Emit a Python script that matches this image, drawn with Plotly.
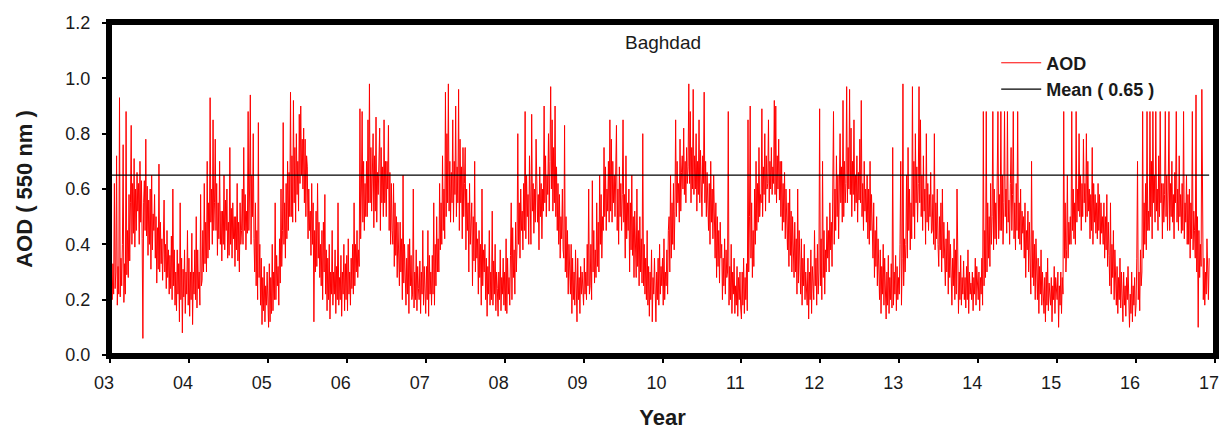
import plotly.graph_objects as go

# Aerosol optical depth (550 nm) over Baghdad, about nine samples per month,
# one row per month, one list per year
aod_2003 = [0.82, 0.13, 0.30, 0.20, 0.33, 0.22, 0.62, 0.24, 0.30,
            0.72, 0.18, 0.32, 0.22, 0.93, 0.21, 0.35, 0.25, 0.40,
            0.76, 0.19, 0.33, 0.22, 0.88, 0.29, 0.45, 0.28, 0.58,
            0.34, 0.55, 0.83, 0.40, 0.62, 0.44, 0.71, 0.39, 0.60,
            0.45, 0.66, 0.52, 0.62, 0.40, 0.70, 0.48, 0.63, 0.42,
            0.06, 0.55, 0.63, 0.45, 0.78, 0.43, 0.61, 0.36, 0.56,
            0.40, 0.60, 0.31, 0.65, 0.38, 0.51, 0.45, 0.58, 0.35,
            0.50, 0.26, 0.46, 0.31, 0.69, 0.30, 0.48, 0.33, 0.42,
            0.27, 0.45, 0.56, 0.30, 0.40, 0.24, 0.45, 0.28, 0.38,
            0.22, 0.36, 0.24, 0.43, 0.20, 0.60, 0.25, 0.38, 0.18,
            0.30, 0.16, 0.38, 0.22, 0.33, 0.12, 0.55, 0.20, 0.35,
            0.08, 0.31, 0.21, 0.38, 0.15, 0.30, 0.22, 0.45, 0.18]
aod_2004 = [0.35, 0.14, 0.30, 0.20, 0.44, 0.11, 0.30, 0.22, 0.38,
            0.20, 0.50, 0.17, 0.38, 0.24, 0.30, 0.18, 0.58, 0.25,
            0.27, 0.45, 0.30, 0.62, 0.33, 0.48, 0.30, 0.70, 0.35,
            0.55, 0.38, 0.93, 0.48, 0.60, 0.40, 0.85, 0.45, 0.55,
            0.78, 0.45, 0.62, 0.36, 0.55, 0.42, 0.70, 0.40, 0.52,
            0.34, 0.52, 0.40, 0.65, 0.38, 0.56, 0.45, 0.60, 0.35,
            0.48, 0.36, 0.75, 0.40, 0.53, 0.35, 0.55, 0.42, 0.50,
            0.32, 0.50, 0.38, 0.62, 0.34, 0.48, 0.30, 0.55, 0.40,
            0.45, 0.60, 0.40, 0.75, 0.45, 0.58, 0.38, 0.52, 0.44,
            0.88, 0.45, 0.60, 0.94, 0.40, 0.65, 0.50, 0.80, 0.42,
            0.30, 0.55, 0.25, 0.45, 0.20, 0.84, 0.28, 0.40, 0.18,
            0.35, 0.11, 0.28, 0.16, 0.32, 0.12, 0.25, 0.18, 0.30]
aod_2005 = [0.22, 0.10, 0.33, 0.12, 0.28, 0.15, 0.40, 0.16, 0.30,
            0.20, 0.55, 0.20, 0.36, 0.25, 0.32, 0.18, 0.42, 0.26,
            0.60, 0.32, 0.45, 0.84, 0.40, 0.55, 0.35, 0.62, 0.42,
            0.70, 0.45, 0.66, 0.50, 0.95, 0.50, 0.72, 0.48, 0.92,
            0.55, 0.75, 0.48, 0.80, 0.58, 0.70, 0.52, 0.87, 0.62,
            0.90, 0.65, 0.78, 0.60, 0.82, 0.55, 0.78, 0.50, 0.72,
            0.68, 0.42, 0.60, 0.45, 0.52, 0.36, 0.62, 0.40, 0.55,
            0.12, 0.45, 0.30, 0.52, 0.32, 0.62, 0.35, 0.48, 0.28,
            0.40, 0.25, 0.45, 0.20, 0.48, 0.30, 0.58, 0.22, 0.38,
            0.16, 0.35, 0.20, 0.40, 0.13, 0.30, 0.22, 0.45, 0.18,
            0.30, 0.22, 0.38, 0.15, 0.32, 0.20, 0.55, 0.18, 0.28,
            0.20, 0.36, 0.14, 0.30, 0.22, 0.40, 0.16, 0.33, 0.20]
aod_2006 = [0.36, 0.16, 0.42, 0.22, 0.30, 0.18, 0.35, 0.24, 0.40,
            0.22, 0.55, 0.25, 0.40, 0.30, 0.45, 0.28, 0.38, 0.32,
            0.89, 0.42, 0.60, 0.88, 0.48, 0.70, 0.45, 0.62, 0.50,
            0.70, 0.50, 0.85, 0.55, 0.98, 0.55, 0.75, 0.52, 0.68,
            0.80, 0.46, 0.72, 0.52, 0.86, 0.48, 0.66, 0.58, 0.75,
            0.82, 0.45, 0.75, 0.55, 0.68, 0.50, 0.85, 0.55, 0.70,
            0.50, 0.70, 0.60, 0.83, 0.45, 0.66, 0.40, 0.62, 0.45,
            0.40, 0.62, 0.32, 0.55, 0.36, 0.50, 0.28, 0.48, 0.35,
            0.25, 0.48, 0.30, 0.42, 0.20, 0.65, 0.26, 0.40, 0.22,
            0.18, 0.35, 0.22, 0.40, 0.15, 0.42, 0.25, 0.36, 0.20,
            0.22, 0.60, 0.17, 0.30, 0.20, 0.38, 0.16, 0.32, 0.24,
            0.20, 0.34, 0.15, 0.30, 0.22, 0.45, 0.18, 0.32, 0.25]
aod_2007 = [0.15, 0.32, 0.20, 0.45, 0.14, 0.36, 0.22, 0.30, 0.18,
            0.36, 0.22, 0.55, 0.18, 0.40, 0.25, 0.50, 0.30, 0.42,
            0.30, 0.62, 0.38, 0.55, 0.40, 0.72, 0.45, 0.60, 0.42,
            0.95, 0.50, 0.80, 0.55, 0.98, 0.52, 0.70, 0.48, 0.66,
            0.55, 0.85, 0.48, 0.70, 0.58, 0.90, 0.50, 0.68, 0.55,
            0.96, 0.45, 0.78, 0.55, 0.68, 0.42, 0.75, 0.50, 0.62,
            0.75, 0.38, 0.60, 0.45, 0.55, 0.30, 0.62, 0.40, 0.52,
            0.55, 0.25, 0.50, 0.34, 0.70, 0.30, 0.48, 0.35, 0.42,
            0.22, 0.45, 0.28, 0.40, 0.18, 0.60, 0.25, 0.38, 0.30,
            0.40, 0.20, 0.35, 0.14, 0.32, 0.22, 0.45, 0.18, 0.30,
            0.20, 0.52, 0.18, 0.34, 0.22, 0.40, 0.16, 0.30, 0.24,
            0.14, 0.30, 0.20, 0.38, 0.16, 0.28, 0.22, 0.35, 0.18]
aod_2008 = [0.30, 0.16, 0.42, 0.15, 0.35, 0.22, 0.28, 0.18, 0.36,
            0.55, 0.20, 0.46, 0.28, 0.38, 0.22, 0.48, 0.30, 0.40,
            0.80, 0.40, 0.55, 0.35, 0.60, 0.45, 0.52, 0.38, 0.62,
            0.45, 0.88, 0.42, 0.65, 0.50, 0.58, 0.40, 0.72, 0.48,
            0.40, 0.87, 0.52, 0.62, 0.44, 0.60, 0.48, 0.78, 0.50,
            0.48, 0.58, 0.38, 0.68, 0.50, 0.62, 0.42, 0.60, 0.52,
            0.90, 0.55, 0.72, 0.50, 0.65, 0.58, 0.80, 0.52, 0.70,
            0.97, 0.60, 0.85, 0.52, 0.75, 0.55, 0.90, 0.50, 0.68,
            0.45, 0.62, 0.40, 0.58, 0.35, 0.50, 0.42, 0.60, 0.38,
            0.35, 0.83, 0.30, 0.50, 0.28, 0.45, 0.22, 0.40, 0.30,
            0.22, 0.40, 0.15, 0.35, 0.20, 0.30, 0.18, 0.38, 0.25,
            0.12, 0.35, 0.20, 0.28, 0.15, 0.32, 0.22, 0.30, 0.18]
aod_2009 = [0.18, 0.35, 0.22, 0.30, 0.20, 0.40, 0.25, 0.60, 0.22,
            0.25, 0.40, 0.20, 0.63, 0.30, 0.45, 0.26, 0.38, 0.28,
            0.55, 0.32, 0.48, 0.30, 0.65, 0.40, 0.58, 0.35, 0.50,
            0.45, 0.75, 0.50, 0.68, 0.45, 0.60, 0.52, 0.70, 0.48,
            0.85, 0.52, 0.78, 0.48, 0.70, 0.55, 0.65, 0.50, 0.72,
            0.83, 0.45, 0.60, 0.40, 0.68, 0.50, 0.62, 0.45, 0.58,
            0.85, 0.48, 0.58, 0.35, 0.72, 0.42, 0.55, 0.45, 0.60,
            0.30, 0.55, 0.38, 0.65, 0.36, 0.50, 0.28, 0.52, 0.40,
            0.28, 0.60, 0.32, 0.45, 0.25, 0.50, 0.30, 0.42, 0.26,
            0.80, 0.25, 0.40, 0.22, 0.35, 0.20, 0.45, 0.18, 0.32,
            0.14, 0.30, 0.20, 0.38, 0.12, 0.28, 0.22, 0.35, 0.16,
            0.12, 0.30, 0.20, 0.35, 0.18, 0.40, 0.22, 0.32, 0.25]
aod_2010 = [0.35, 0.18, 0.42, 0.20, 0.30, 0.25, 0.38, 0.22, 0.45,
            0.50, 0.30, 0.65, 0.35, 0.55, 0.40, 0.62, 0.38, 0.52,
            0.85, 0.50, 0.70, 0.55, 0.62, 0.48, 0.78, 0.52, 0.66,
            0.72, 0.60, 0.82, 0.58, 0.70, 0.55, 0.75, 0.62, 0.68,
            0.98, 0.62, 0.88, 0.55, 0.75, 0.60, 0.96, 0.58, 0.72,
            0.60, 0.80, 0.52, 0.70, 0.58, 0.85, 0.55, 0.74, 0.62,
            0.50, 0.72, 0.62, 0.95, 0.55, 0.70, 0.50, 0.66, 0.58,
            0.45, 0.62, 0.40, 0.70, 0.48, 0.60, 0.42, 0.65, 0.50,
            0.35, 0.55, 0.28, 0.50, 0.32, 0.45, 0.26, 0.48, 0.35,
            0.40, 0.20, 0.35, 0.25, 0.42, 0.22, 0.38, 0.28, 0.30,
            0.88, 0.18, 0.32, 0.20, 0.40, 0.15, 0.30, 0.22, 0.35,
            0.15, 0.25, 0.18, 0.32, 0.14, 0.28, 0.20, 0.30, 0.17]
aod_2011 = [0.13, 0.30, 0.18, 0.35, 0.15, 0.28, 0.20, 0.33, 0.16,
            0.85, 0.30, 0.50, 0.90, 0.35, 0.55, 0.28, 0.45, 0.32,
            0.60, 0.40, 0.70, 0.45, 0.62, 0.48, 0.75, 0.50, 0.58,
            0.55, 0.89, 0.50, 0.68, 0.58, 0.80, 0.52, 0.72, 0.60,
            0.62, 0.85, 0.55, 0.70, 0.60, 0.75, 0.58, 0.68, 0.62,
            0.92, 0.58, 0.90, 0.55, 0.72, 0.60, 0.78, 0.56, 0.70,
            0.50, 0.70, 0.45, 0.62, 0.48, 0.66, 0.42, 0.60, 0.46,
            0.38, 0.55, 0.32, 0.60, 0.36, 0.52, 0.30, 0.50, 0.40,
            0.28, 0.48, 0.30, 0.42, 0.22, 0.60, 0.26, 0.45, 0.32,
            0.22, 0.42, 0.18, 0.35, 0.25, 0.40, 0.20, 0.30, 0.24,
            0.18, 0.35, 0.13, 0.30, 0.20, 0.38, 0.15, 0.32, 0.22,
            0.20, 0.45, 0.25, 0.35, 0.18, 0.40, 0.22, 0.30, 0.89]
aod_2012 = [0.25, 0.42, 0.20, 0.70, 0.28, 0.45, 0.22, 0.38, 0.30,
            0.50, 0.35, 0.45, 0.30, 0.55, 0.38, 0.48, 0.32, 0.60,
            0.88, 0.40, 0.60, 0.45, 0.72, 0.50, 0.65, 0.42, 0.58,
            0.80, 0.55, 0.68, 0.48, 0.92, 0.50, 0.70, 0.55, 0.62,
            0.97, 0.55, 0.75, 0.60, 0.96, 0.58, 0.82, 0.50, 0.70,
            0.58, 0.85, 0.52, 0.65, 0.55, 0.72, 0.48, 0.66, 0.56,
            0.78, 0.55, 0.92, 0.50, 0.62, 0.45, 0.70, 0.52, 0.60,
            0.48, 0.65, 0.42, 0.60, 0.40, 0.70, 0.45, 0.58, 0.38,
            0.35, 0.55, 0.28, 0.45, 0.32, 0.50, 0.25, 0.42, 0.30,
            0.20, 0.38, 0.15, 0.32, 0.22, 0.40, 0.18, 0.35, 0.25,
            0.13, 0.30, 0.18, 0.36, 0.15, 0.28, 0.20, 0.33, 0.17,
            0.75, 0.18, 0.30, 0.22, 0.36, 0.16, 0.32, 0.20, 0.28]
aod_2013 = [0.22, 0.40, 0.70, 0.18, 0.35, 0.98, 0.25, 0.42, 0.30,
            0.40, 0.65, 0.35, 0.75, 0.45, 0.60, 0.38, 0.55, 0.42,
            0.97, 0.50, 0.70, 0.42, 0.80, 0.55, 0.68, 0.48, 0.62,
            0.97, 0.55, 0.85, 0.50, 0.65, 0.45, 0.72, 0.52, 0.60,
            0.40, 0.80, 0.48, 0.62, 0.45, 0.58, 0.50, 0.66, 0.44,
            0.45, 0.58, 0.40, 0.80, 0.38, 0.55, 0.42, 0.60, 0.40,
            0.32, 0.50, 0.38, 0.55, 0.30, 0.60, 0.35, 0.48, 0.40,
            0.25, 0.42, 0.30, 0.48, 0.22, 0.45, 0.28, 0.40, 0.32,
            0.18, 0.35, 0.25, 0.42, 0.20, 0.38, 0.22, 0.60, 0.26,
            0.15, 0.30, 0.20, 0.36, 0.18, 0.28, 0.22, 0.34, 0.20,
            0.28, 0.17, 0.32, 0.20, 0.38, 0.15, 0.30, 0.22, 0.26,
            0.20, 0.30, 0.16, 0.28, 0.22, 0.35, 0.18, 0.32, 0.24]
aod_2014 = [0.20, 0.30, 0.16, 0.28, 0.22, 0.35, 0.18, 0.88, 0.25,
            0.45, 0.28, 0.88, 0.30, 0.55, 0.35, 0.50, 0.32, 0.62,
            0.40, 0.50, 0.88, 0.38, 0.60, 0.42, 0.55, 0.40, 0.58,
            0.88, 0.42, 0.58, 0.45, 0.88, 0.45, 0.65, 0.40, 0.55,
            0.88, 0.50, 0.60, 0.44, 0.88, 0.48, 0.56, 0.40, 0.62,
            0.75, 0.45, 0.58, 0.88, 0.42, 0.55, 0.38, 0.62, 0.45,
            0.88, 0.42, 0.55, 0.40, 0.60, 0.38, 0.52, 0.44, 0.50,
            0.35, 0.55, 0.28, 0.45, 0.38, 0.52, 0.30, 0.48, 0.35,
            0.22, 0.70, 0.28, 0.45, 0.25, 0.40, 0.20, 0.42, 0.30,
            0.20, 0.35, 0.15, 0.32, 0.22, 0.38, 0.18, 0.30, 0.24,
            0.15, 0.28, 0.12, 0.30, 0.18, 0.35, 0.16, 0.26, 0.20,
            0.18, 0.28, 0.12, 0.25, 0.20, 0.32, 0.15, 0.28, 0.22]
aod_2015 = [0.20, 0.30, 0.10, 0.25, 0.18, 0.30, 0.15, 0.28, 0.22,
            0.88, 0.35, 0.55, 0.30, 0.38, 0.65, 0.35, 0.48, 0.40,
            0.50, 0.40, 0.88, 0.45, 0.60, 0.42, 0.55, 0.40, 0.88,
            0.48, 0.60, 0.52, 0.80, 0.50, 0.65, 0.45, 0.62, 0.50,
            0.78, 0.55, 0.62, 0.48, 0.80, 0.50, 0.70, 0.52, 0.60,
            0.42, 0.58, 0.45, 0.75, 0.40, 0.62, 0.48, 0.58, 0.44,
            0.55, 0.42, 0.62, 0.45, 0.58, 0.40, 0.55, 0.44, 0.50,
            0.40, 0.55, 0.35, 0.50, 0.38, 0.58, 0.32, 0.48, 0.36,
            0.25, 0.55, 0.22, 0.40, 0.28, 0.45, 0.20, 0.38, 0.25,
            0.18, 0.32, 0.15, 0.28, 0.20, 0.35, 0.17, 0.30, 0.22,
            0.12, 0.30, 0.18, 0.25, 0.14, 0.28, 0.20, 0.32, 0.16,
            0.10, 0.22, 0.15, 0.30, 0.12, 0.25, 0.18, 0.28, 0.14]
aod_2016 = [0.18, 0.35, 0.70, 0.20, 0.30, 0.16, 0.38, 0.25, 0.30,
            0.88, 0.35, 0.55, 0.40, 0.62, 0.38, 0.88, 0.45, 0.52,
            0.45, 0.88, 0.50, 0.70, 0.42, 0.88, 0.55, 0.65, 0.48,
            0.88, 0.52, 0.60, 0.45, 0.72, 0.50, 0.88, 0.55, 0.62,
            0.42, 0.62, 0.48, 0.58, 0.88, 0.50, 0.65, 0.45, 0.60,
            0.88, 0.45, 0.62, 0.50, 0.70, 0.48, 0.58, 0.42, 0.66,
            0.55, 0.88, 0.48, 0.60, 0.45, 0.72, 0.50, 0.58, 0.44,
            0.62, 0.45, 0.88, 0.42, 0.55, 0.48, 0.65, 0.40, 0.58,
            0.40, 0.60, 0.35, 0.55, 0.42, 0.88, 0.38, 0.52, 0.45,
            0.35, 0.94, 0.30, 0.50, 0.10, 0.45, 0.28, 0.40, 0.32,
            0.96, 0.32, 0.20, 0.35, 0.18, 0.30, 0.22, 0.42, 0.25,
            0.20, 0.35]

years = list(range(2003, 2017))
yearly_aod = [aod_2003, aod_2004, aod_2005, aod_2006, aod_2007, aod_2008, aod_2009,
              aod_2010, aod_2011, aod_2012, aod_2013, aod_2014, aod_2015, aod_2016]
mean_aod = 0.65
station = "Baghdad"
samples_per_year = 108

x_ticks = list(range(2003, 2018))
x_tick_text = [f"{y % 100:02d}" for y in x_ticks]
y_ticks = [0.0, 0.2, 0.4, 0.6, 0.8, 1.0, 1.2]

# decimal-year time axis
t, aod = [], []
for yr, vals in zip(years, yearly_aod):
    n = max(len(vals), samples_per_year)
    for i, v in enumerate(vals):
        t.append(yr + i / n)
        aod.append(v)

font_family = "Liberation Sans, Arial, sans-serif"
text_color = "#1a1a1a"

fig = go.Figure()
fig.add_trace(go.Scatter(
    x=t, y=aod, mode="lines", name="<b>AOD</b>",
    line=dict(color="#ff0000", width=1),
))
fig.add_trace(go.Scatter(
    x=[t[0], t[-1]], y=[mean_aod, mean_aod], mode="lines",
    name=f"<b>Mean ( {mean_aod:.2f} )</b>",
    line=dict(color="#000000", width=1.3),
))

axis_common = dict(
    showline=True, linecolor="black", linewidth=4, mirror=True,
    ticks="outside", ticklen=4, tickwidth=1.5, tickcolor="black",
    showgrid=False, zeroline=False, automargin=False,
    tickfont=dict(family=font_family, size=18, color=text_color),
)

fig.update_xaxes(
    range=[2003, 2017], tickvals=x_ticks, ticktext=x_tick_text,
    title=dict(text="<b>Year</b>", font=dict(family=font_family, size=22, color=text_color), standoff=24),
    ticklabelstandoff=4, ticklabelshift=-6,
    **axis_common,
)
fig.update_yaxes(
    range=[0, 1.2], tickvals=y_ticks, tickformat=".1f",
    title=dict(text="<b>AOD ( 550 nm )</b>", font=dict(family=font_family, size=22, color=text_color), standoff=28),
    ticklabelstandoff=8,
    **axis_common,
)

# heavy frame round the plotting area
fig.add_shape(type="rect", xref="paper", yref="paper", x0=0, x1=1, y0=0, y1=1,
              line=dict(color="black", width=4), layer="above")

fig.add_annotation(
    text=station, x=0.5, y=0.94, xref="paper", yref="paper",
    xanchor="center", yanchor="middle",
    showarrow=False, font=dict(family=font_family, size=19, color=text_color),
)

fig.update_layout(
    width=1225, height=430,
    margin=dict(l=110, r=10, t=23, b=75),
    plot_bgcolor="white", paper_bgcolor="white",
    showlegend=True,
    legend=dict(
        x=0.802, y=0.935, xanchor="left", yanchor="top",
        bgcolor="rgba(0,0,0,0)", borderwidth=0,
        font=dict(family=font_family, size=18, color=text_color),
        itemwidth=40, tracegroupgap=0,
    ),
)

fig.write_html("out.html")
